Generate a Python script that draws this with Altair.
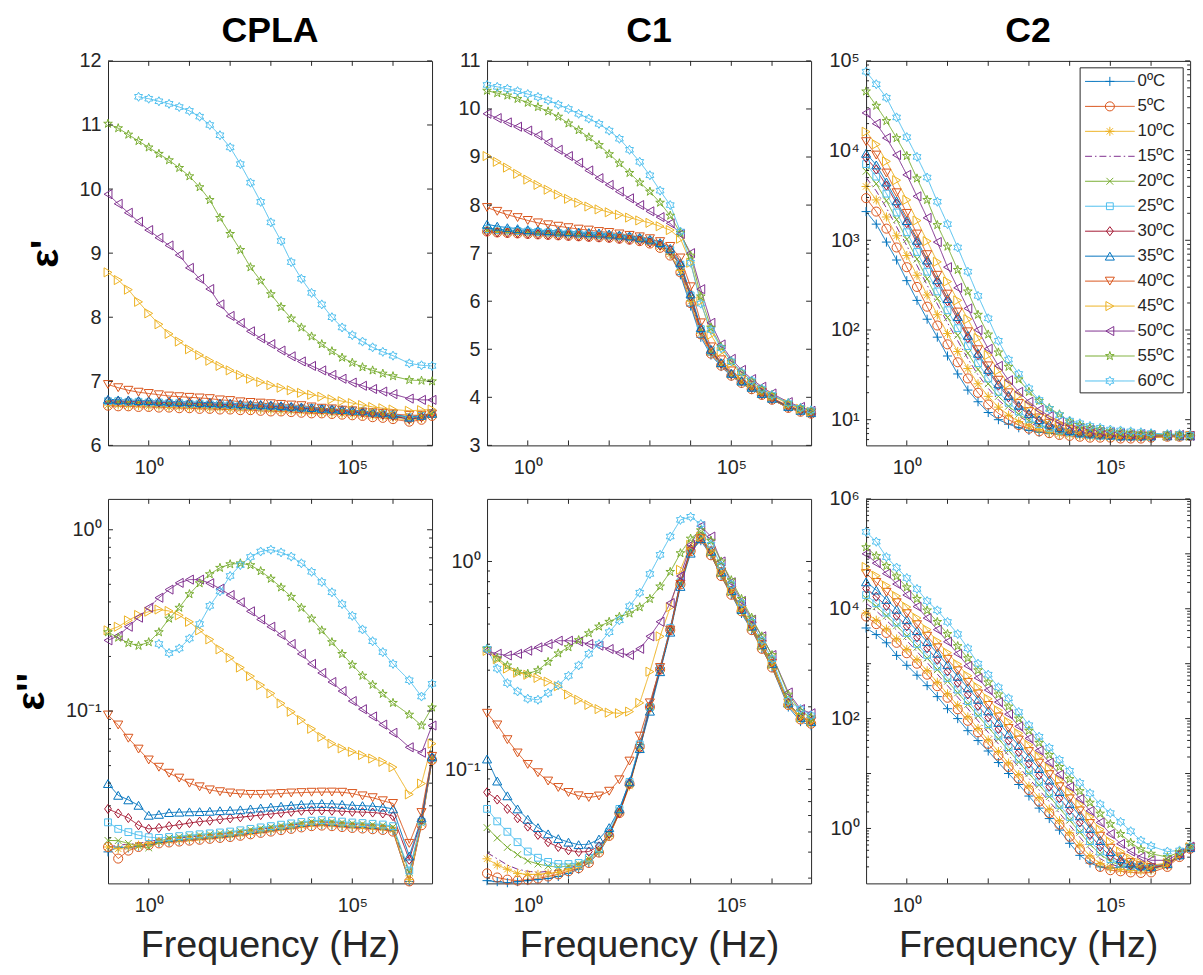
import math
import altair as alt
import pandas as pd

# ---------------------------------------------------------------- data
SERIES = ["0ºC", "5ºC", "10ºC", "15ºC", "20ºC", "25ºC", "30ºC",
          "35ºC", "40ºC", "45ºC", "50ºC", "55ºC", "60ºC"]

# measurement frequencies (Hz)
FREQ = [0.1, 0.178, 0.316, 0.562, 1.0, 1.78, 3.16, 5.62, 10, 17.8, 31.6, 56.2,
        100, 178, 316, 562, 1e3, 1.78e3, 3.16e3, 5.62e3, 1e4, 1.78e4, 3.16e4, 5.62e4,
        1e5, 1.78e5, 3.16e5, 5.62e5, 1e6, 2.51e6, 5.01e6, 9.1e6]

# CPLA  eps'  (linear axis)
CPLA_EPS1 = {
    "0ºC":  [6.66, 6.66, 6.65, 6.65, 6.64, 6.64, 6.63, 6.63, 6.62, 6.62, 6.61, 6.61, 6.60, 6.60, 6.59, 6.58, 6.58, 6.57, 6.56, 6.56, 6.55, 6.54, 6.53, 6.52, 6.51, 6.50, 6.48, 6.47, 6.45, 6.41, 6.43, 6.47],
    "5ºC":  [6.62, 6.61, 6.61, 6.60, 6.60, 6.59, 6.59, 6.58, 6.58, 6.57, 6.57, 6.56, 6.56, 6.55, 6.55, 6.54, 6.53, 6.53, 6.52, 6.51, 6.50, 6.50, 6.49, 6.48, 6.47, 6.46, 6.44, 6.43, 6.41, 6.37, 6.40, 6.46],
    "10ºC": [6.63, 6.63, 6.62, 6.62, 6.61, 6.61, 6.60, 6.60, 6.59, 6.59, 6.58, 6.58, 6.57, 6.57, 6.56, 6.56, 6.55, 6.54, 6.54, 6.53, 6.52, 6.51, 6.50, 6.49, 6.48, 6.47, 6.46, 6.45, 6.43, 6.39, 6.42, 6.47],
    "15ºC": [6.67, 6.67, 6.66, 6.66, 6.65, 6.65, 6.64, 6.64, 6.63, 6.63, 6.62, 6.62, 6.61, 6.61, 6.60, 6.60, 6.59, 6.58, 6.58, 6.57, 6.56, 6.55, 6.54, 6.53, 6.52, 6.51, 6.50, 6.48, 6.46, 6.42, 6.44, 6.48],
    "20ºC": [6.68, 6.68, 6.67, 6.67, 6.66, 6.66, 6.65, 6.65, 6.64, 6.64, 6.63, 6.63, 6.62, 6.62, 6.61, 6.61, 6.60, 6.59, 6.59, 6.58, 6.57, 6.56, 6.55, 6.54, 6.53, 6.52, 6.51, 6.49, 6.47, 6.43, 6.45, 6.49],
    "25ºC": [6.69, 6.69, 6.68, 6.68, 6.67, 6.67, 6.66, 6.66, 6.65, 6.65, 6.64, 6.64, 6.63, 6.62, 6.62, 6.61, 6.61, 6.60, 6.59, 6.58, 6.58, 6.57, 6.56, 6.55, 6.54, 6.53, 6.51, 6.50, 6.48, 6.44, 6.46, 6.50],
    "30ºC": [6.70, 6.69, 6.69, 6.68, 6.68, 6.67, 6.67, 6.66, 6.66, 6.65, 6.65, 6.64, 6.64, 6.63, 6.62, 6.62, 6.61, 6.60, 6.59, 6.58, 6.57, 6.56, 6.55, 6.54, 6.53, 6.51, 6.50, 6.48, 6.46, 6.41, 6.44, 6.49],
    "35ºC": [6.72, 6.71, 6.71, 6.70, 6.70, 6.69, 6.69, 6.68, 6.68, 6.67, 6.67, 6.66, 6.66, 6.65, 6.64, 6.64, 6.63, 6.62, 6.61, 6.60, 6.59, 6.58, 6.57, 6.56, 6.55, 6.54, 6.52, 6.51, 6.49, 6.44, 6.47, 6.50],
    "40ºC": [6.95, 6.90, 6.86, 6.83, 6.81, 6.79, 6.77, 6.76, 6.75, 6.74, 6.73, 6.71, 6.70, 6.68, 6.67, 6.66, 6.65, 6.64, 6.63, 6.62, 6.60, 6.58, 6.57, 6.55, 6.54, 6.52, 6.51, 6.50, 6.49, 6.47, 6.47, 6.49],
    "45ºC": [8.70, 8.58, 8.43, 8.24, 8.06, 7.89, 7.74, 7.62, 7.50, 7.41, 7.32, 7.24, 7.17, 7.10, 7.04, 6.99, 6.94, 6.90, 6.86, 6.82, 6.79, 6.76, 6.72, 6.69, 6.66, 6.63, 6.60, 6.58, 6.56, 6.54, 6.55, 6.56],
    "50ºC": [9.92, 9.77, 9.63, 9.49, 9.36, 9.24, 9.12, 8.97, 8.77, 8.60, 8.44, 8.20, 8.02, 7.91, 7.78, 7.67, 7.58, 7.48, 7.39, 7.31, 7.24, 7.17, 7.10, 7.04, 6.98, 6.93, 6.88, 6.84, 6.80, 6.73, 6.71, 6.71],
    "55ºC": [11.02, 10.95, 10.85, 10.75, 10.65, 10.55, 10.45, 10.33, 10.20, 10.03, 9.83, 9.55, 9.30, 9.05, 8.78, 8.57, 8.36, 8.16, 7.98, 7.84, 7.70, 7.58, 7.47, 7.37, 7.29, 7.22, 7.17, 7.12, 7.08, 7.02, 7.01, 7.00],
    "60ºC": [None, None, None, 11.44, 11.41, 11.37, 11.33, 11.28, 11.22, 11.13, 11.00, 10.84, 10.65, 10.39, 10.10, 9.80, 9.48, 9.19, 8.86, 8.60, 8.38, 8.20, 8.00, 7.84, 7.72, 7.62, 7.53, 7.46, 7.40, 7.28, 7.25, 7.24],
}

# C1  eps'  (linear axis)
C1_EPS1 = {
    "0ºC":  [7.52, 7.50, 7.48, 7.47, 7.46, 7.45, 7.44, 7.43, 7.42, 7.41, 7.40, 7.39, 7.38, 7.36, 7.34, 7.31, 7.26, 7.16, 6.98, 6.55, 5.90, 5.25, 4.88, 4.64, 4.44, 4.29, 4.16, 4.05, 3.95, 3.78, 3.70, 3.66],
    "5ºC":  [7.45, 7.43, 7.42, 7.41, 7.40, 7.39, 7.38, 7.37, 7.36, 7.35, 7.34, 7.33, 7.32, 7.30, 7.28, 7.25, 7.20, 7.11, 6.95, 6.60, 5.96, 5.31, 4.91, 4.66, 4.45, 4.30, 4.17, 4.05, 3.95, 3.78, 3.70, 3.66],
    "10ºC": [7.46, 7.44, 7.43, 7.42, 7.41, 7.40, 7.39, 7.38, 7.37, 7.36, 7.35, 7.34, 7.33, 7.31, 7.29, 7.26, 7.21, 7.13, 6.98, 6.64, 6.00, 5.34, 4.93, 4.68, 4.46, 4.31, 4.18, 4.06, 3.96, 3.79, 3.71, 3.67],
    "15ºC": [7.47, 7.45, 7.44, 7.43, 7.42, 7.41, 7.40, 7.39, 7.38, 7.37, 7.36, 7.35, 7.34, 7.32, 7.30, 7.27, 7.22, 7.15, 7.01, 6.68, 6.04, 5.37, 4.95, 4.69, 4.47, 4.32, 4.19, 4.07, 3.97, 3.80, 3.72, 3.67],
    "20ºC": [7.48, 7.46, 7.45, 7.44, 7.43, 7.42, 7.41, 7.40, 7.39, 7.38, 7.37, 7.36, 7.35, 7.33, 7.31, 7.28, 7.24, 7.17, 7.04, 6.72, 6.08, 5.40, 4.96, 4.70, 4.48, 4.32, 4.19, 4.07, 3.97, 3.80, 3.72, 3.67],
    "25ºC": [7.50, 7.48, 7.47, 7.46, 7.45, 7.44, 7.43, 7.42, 7.41, 7.40, 7.39, 7.38, 7.37, 7.35, 7.33, 7.30, 7.26, 7.19, 7.07, 6.76, 6.12, 5.42, 4.98, 4.71, 4.49, 4.33, 4.20, 4.08, 3.98, 3.81, 3.73, 3.68],
    "30ºC": [7.45, 7.43, 7.42, 7.41, 7.40, 7.39, 7.38, 7.37, 7.36, 7.35, 7.34, 7.33, 7.32, 7.30, 7.28, 7.26, 7.22, 7.16, 7.05, 6.75, 6.10, 5.40, 4.97, 4.70, 4.48, 4.33, 4.20, 4.07, 3.97, 3.80, 3.72, 3.67],
    "35ºC": [7.60, 7.56, 7.53, 7.51, 7.49, 7.48, 7.47, 7.46, 7.45, 7.44, 7.43, 7.42, 7.40, 7.38, 7.36, 7.33, 7.29, 7.22, 7.10, 6.80, 6.15, 5.45, 5.00, 4.72, 4.50, 4.34, 4.21, 4.08, 3.98, 3.81, 3.73, 3.68],
    "40ºC": [7.95, 7.87, 7.80, 7.74, 7.68, 7.63, 7.59, 7.56, 7.53, 7.50, 7.48, 7.45, 7.43, 7.40, 7.37, 7.34, 7.30, 7.24, 7.14, 6.90, 6.30, 5.55, 5.05, 4.78, 4.55, 4.38, 4.24, 4.10, 3.99, 3.82, 3.74, 3.68],
    "45ºC": [9.02, 8.90, 8.78, 8.65, 8.53, 8.42, 8.32, 8.22, 8.13, 8.05, 7.97, 7.91, 7.85, 7.80, 7.74, 7.68, 7.63, 7.56, 7.48, 7.30, 6.80, 6.00, 5.30, 4.95, 4.70, 4.48, 4.30, 4.15, 4.03, 3.86, 3.76, 3.70],
    "50ºC": [9.90, 9.81, 9.72, 9.63, 9.55, 9.45, 9.30, 9.15, 9.02, 8.88, 8.72, 8.56, 8.42, 8.28, 8.14, 8.00, 7.87, 7.75, 7.62, 7.40, 7.00, 6.25, 5.55, 5.10, 4.80, 4.57, 4.38, 4.22, 4.08, 3.90, 3.80, 3.72],
    "55ºC": [10.38, 10.33, 10.28, 10.21, 10.13, 10.04, 9.95, 9.84, 9.70, 9.56, 9.41, 9.25, 9.06, 8.87, 8.67, 8.47, 8.28, 8.05, 7.78, 7.42, 6.95, 6.10, 5.45, 5.05, 4.75, 4.52, 4.34, 4.18, 4.05, 3.88, 3.78, 3.72],
    "60ºC": [10.50, 10.46, 10.42, 10.37, 10.31, 10.25, 10.18, 10.09, 10.00, 9.90, 9.80, 9.69, 9.55, 9.38, 9.15, 8.90, 8.62, 8.30, 8.00, 7.45, 6.80, 5.95, 5.40, 5.02, 4.75, 4.52, 4.35, 4.18, 4.05, 3.88, 3.78, 3.73],
}

# C2  eps'  -- log10 of the values
C2_EPS1_LOG10 = {
    "0ºC":  [3.32, 3.18, 2.98, 2.78, 2.55, 2.33, 2.12, 1.92, 1.71, 1.51, 1.33, 1.20, 1.08, 1.00, 0.95, 0.91, 0.88, 0.86, 0.85, 0.84, 0.83, 0.83, 0.82, 0.82, 0.82, 0.82, 0.82, 0.82, 0.82, 0.82, 0.82, 0.82],
    "5ºC":  [3.47, 3.32, 3.13, 2.92, 2.70, 2.48, 2.26, 2.05, 1.84, 1.64, 1.46, 1.30, 1.17, 1.07, 1.00, 0.94, 0.90, 0.87, 0.85, 0.83, 0.82, 0.81, 0.80, 0.80, 0.80, 0.79, 0.79, 0.79, 0.80, 0.81, 0.81, 0.82],
    "10ºC": [3.60, 3.45, 3.26, 3.05, 2.83, 2.61, 2.39, 2.17, 1.96, 1.76, 1.57, 1.40, 1.26, 1.14, 1.05, 0.98, 0.93, 0.89, 0.86, 0.84, 0.83, 0.82, 0.81, 0.81, 0.80, 0.80, 0.80, 0.80, 0.80, 0.81, 0.81, 0.82],
    "15ºC": [3.70, 3.55, 3.36, 3.15, 2.94, 2.72, 2.50, 2.29, 2.08, 1.88, 1.68, 1.50, 1.35, 1.22, 1.12, 1.04, 0.97, 0.92, 0.89, 0.86, 0.84, 0.83, 0.82, 0.81, 0.81, 0.81, 0.81, 0.81, 0.81, 0.82, 0.82, 0.82],
    "20ºC": [3.77, 3.63, 3.44, 3.23, 3.01, 2.79, 2.57, 2.35, 2.14, 1.94, 1.74, 1.56, 1.40, 1.26, 1.15, 1.06, 0.99, 0.94, 0.90, 0.87, 0.85, 0.83, 0.82, 0.82, 0.81, 0.81, 0.81, 0.81, 0.81, 0.82, 0.82, 0.82],
    "25ºC": [3.85, 3.71, 3.52, 3.31, 3.09, 2.87, 2.65, 2.43, 2.22, 2.02, 1.82, 1.63, 1.46, 1.31, 1.19, 1.09, 1.01, 0.95, 0.91, 0.88, 0.86, 0.84, 0.83, 0.82, 0.82, 0.81, 0.81, 0.81, 0.81, 0.82, 0.82, 0.82],
    "30ºC": [3.92, 3.79, 3.61, 3.41, 3.19, 2.97, 2.75, 2.53, 2.32, 2.12, 1.91, 1.72, 1.54, 1.38, 1.25, 1.14, 1.06, 0.99, 0.94, 0.90, 0.87, 0.85, 0.84, 0.83, 0.82, 0.81, 0.81, 0.81, 0.81, 0.82, 0.82, 0.82],
    "35ºC": [3.97, 3.84, 3.65, 3.44, 3.22, 3.00, 2.78, 2.56, 2.35, 2.15, 1.94, 1.74, 1.56, 1.40, 1.27, 1.16, 1.07, 1.00, 0.95, 0.91, 0.88, 0.86, 0.85, 0.84, 0.83, 0.82, 0.82, 0.82, 0.82, 0.82, 0.82, 0.82],
    "40ºC": [4.10, 3.95, 3.75, 3.53, 3.30, 3.07, 2.84, 2.61, 2.40, 2.20, 1.98, 1.78, 1.60, 1.44, 1.30, 1.18, 1.09, 1.02, 0.96, 0.92, 0.89, 0.87, 0.85, 0.84, 0.83, 0.82, 0.82, 0.82, 0.82, 0.82, 0.82, 0.82],
    "45ºC": [4.21, 4.07, 3.88, 3.67, 3.45, 3.22, 2.99, 2.76, 2.54, 2.33, 2.12, 1.91, 1.72, 1.55, 1.40, 1.27, 1.16, 1.08, 1.01, 0.96, 0.92, 0.89, 0.87, 0.85, 0.84, 0.83, 0.83, 0.82, 0.82, 0.82, 0.82, 0.82],
    "50ºC": [4.42, 4.30, 4.14, 3.95, 3.73, 3.49, 3.25, 2.98, 2.70, 2.47, 2.24, 2.00, 1.79, 1.60, 1.44, 1.31, 1.20, 1.11, 1.04, 0.98, 0.94, 0.91, 0.89, 0.87, 0.86, 0.85, 0.84, 0.84, 0.83, 0.83, 0.83, 0.82],
    "55ºC": [4.66, 4.50, 4.33, 4.14, 3.94, 3.69, 3.45, 3.17, 2.93, 2.67, 2.43, 2.17, 1.95, 1.75, 1.59, 1.45, 1.31, 1.21, 1.13, 1.06, 0.98, 0.94, 0.91, 0.89, 0.87, 0.86, 0.85, 0.84, 0.84, 0.83, 0.83, 0.82],
    "60ºC": [4.88, 4.74, 4.59, 4.37, 4.15, 3.93, 3.70, 3.43, 3.18, 2.92, 2.65, 2.38, 2.13, 1.88, 1.67, 1.51, 1.35, 1.22, 1.12, 1.05, 0.99, 0.96, 0.93, 0.91, 0.89, 0.88, 0.87, 0.86, 0.85, 0.84, 0.84, 0.83],
}

# CPLA  eps''  -- log10 values
CPLA_EPS2_LOG10 = {
    "0ºC":  [-1.777, -1.75, -1.755, -1.745, -1.735, -1.725, -1.72, -1.715, -1.71, -1.705, -1.70, -1.695, -1.69, -1.683, -1.675, -1.667, -1.66, -1.652, -1.645, -1.637, -1.63, -1.627, -1.63, -1.635, -1.64, -1.643, -1.647, -1.651, -1.66, -1.94, -1.62, -1.27],
    "5ºC":  [-1.75, -1.814, -1.77, -1.75, -1.74, -1.73, -1.725, -1.72, -1.715, -1.71, -1.705, -1.70, -1.695, -1.688, -1.68, -1.672, -1.665, -1.657, -1.65, -1.642, -1.635, -1.632, -1.635, -1.64, -1.645, -1.648, -1.652, -1.656, -1.665, -1.94, -1.63, -1.27],
    "10ºC": [-1.75, -1.76, -1.75, -1.74, -1.73, -1.72, -1.715, -1.71, -1.705, -1.70, -1.695, -1.69, -1.685, -1.678, -1.67, -1.662, -1.655, -1.647, -1.64, -1.632, -1.625, -1.622, -1.625, -1.63, -1.635, -1.638, -1.642, -1.646, -1.655, -1.93, -1.62, -1.27],
    "15ºC": [-1.75, -1.74, -1.735, -1.73, -1.72, -1.71, -1.705, -1.70, -1.695, -1.69, -1.685, -1.68, -1.675, -1.668, -1.66, -1.652, -1.645, -1.637, -1.63, -1.622, -1.615, -1.612, -1.615, -1.62, -1.625, -1.628, -1.632, -1.636, -1.645, -1.90, -1.62, -1.26],
    "20ºC": [-1.714, -1.715, -1.73, -1.745, -1.755, -1.72, -1.70, -1.695, -1.69, -1.685, -1.68, -1.675, -1.67, -1.663, -1.655, -1.647, -1.64, -1.632, -1.625, -1.617, -1.61, -1.607, -1.61, -1.615, -1.62, -1.623, -1.627, -1.631, -1.64, -1.89, -1.61, -1.26],
    "25ºC": [-1.614, -1.65, -1.668, -1.685, -1.696, -1.70, -1.695, -1.69, -1.685, -1.68, -1.675, -1.67, -1.665, -1.658, -1.65, -1.642, -1.635, -1.627, -1.62, -1.612, -1.605, -1.602, -1.605, -1.61, -1.615, -1.618, -1.622, -1.626, -1.635, -1.88, -1.61, -1.26],
    "30ºC": [-1.54, -1.565, -1.59, -1.63, -1.65, -1.645, -1.635, -1.627, -1.618, -1.61, -1.605, -1.598, -1.592, -1.586, -1.58, -1.574, -1.568, -1.562, -1.556, -1.55, -1.548, -1.548, -1.55, -1.553, -1.556, -1.558, -1.56, -1.565, -1.58, -1.82, -1.60, -1.26],
    "35ºC": [-1.40, -1.465, -1.49, -1.52, -1.575, -1.57, -1.56, -1.558, -1.556, -1.555, -1.553, -1.55, -1.548, -1.545, -1.54, -1.535, -1.53, -1.525, -1.52, -1.515, -1.512, -1.51, -1.512, -1.515, -1.52, -1.522, -1.525, -1.53, -1.54, -1.80, -1.59, -1.25],
    "40ºC": [-1.022, -1.077, -1.15, -1.21, -1.27, -1.31, -1.343, -1.37, -1.398, -1.418, -1.435, -1.445, -1.452, -1.457, -1.46, -1.46, -1.458, -1.455, -1.452, -1.45, -1.448, -1.447, -1.447, -1.448, -1.455, -1.468, -1.478, -1.495, -1.51, -1.73, -1.56, -1.25],
    "45ºC": [-0.555, -0.535, -0.50, -0.47, -0.452, -0.44, -0.448, -0.472, -0.508, -0.555, -0.605, -0.66, -0.706, -0.76, -0.808, -0.857, -0.903, -0.958, -1.004, -1.05, -1.098, -1.143, -1.18, -1.206, -1.225, -1.243, -1.262, -1.28, -1.31, -1.46, -1.40, -1.18],
    "50ºC": [-0.61, -0.585, -0.535, -0.485, -0.43, -0.375, -0.33, -0.293, -0.275, -0.275, -0.295, -0.325, -0.36, -0.40, -0.45, -0.495, -0.535, -0.58, -0.63, -0.685, -0.74, -0.79, -0.84, -0.89, -0.945, -0.99, -1.03, -1.075, -1.12, -1.20, -1.23, -1.08],
    "55ºC": [-0.565, -0.595, -0.625, -0.64, -0.62, -0.565, -0.49, -0.43, -0.355, -0.295, -0.245, -0.21, -0.19, -0.185, -0.195, -0.228, -0.27, -0.318, -0.37, -0.43, -0.49, -0.555, -0.62, -0.685, -0.745, -0.805, -0.855, -0.905, -0.955, -1.02, -1.08, -0.98],
    "60ºC": [None, None, None, None, None, -0.63, -0.68, -0.655, -0.60, -0.52, -0.42, -0.34, -0.255, -0.195, -0.15, -0.12, -0.11, -0.125, -0.148, -0.185, -0.232, -0.288, -0.345, -0.41, -0.475, -0.55, -0.615, -0.675, -0.74, -0.83, -0.92, -0.85],
}

# C1  eps''  -- log10 values
C1_EPS2_LOG10 = {
    "0ºC":  [-1.535, -1.54, -1.545, -1.54, -1.535, -1.53, -1.525, -1.515, -1.50, -1.48, -1.45, -1.40, -1.32, -1.20, -1.06, -0.88, -0.69, -0.51, -0.32, -0.10, 0.05, 0.10, 0.03, -0.07, -0.16, -0.25, -0.33, -0.42, -0.51, -0.70, -0.77, -0.79],
    "5ºC":  [-1.50, -1.52, -1.53, -1.535, -1.53, -1.525, -1.515, -1.505, -1.49, -1.475, -1.45, -1.40, -1.32, -1.21, -1.07, -0.89, -0.70, -0.52, -0.33, -0.11, 0.05, 0.11, 0.03, -0.07, -0.16, -0.24, -0.33, -0.42, -0.51, -0.69, -0.76, -0.78],
    "10ºC": [-1.43, -1.46, -1.48, -1.50, -1.505, -1.505, -1.50, -1.495, -1.48, -1.465, -1.44, -1.395, -1.32, -1.21, -1.08, -0.90, -0.71, -0.52, -0.33, -0.11, 0.05, 0.11, 0.04, -0.06, -0.15, -0.24, -0.32, -0.41, -0.50, -0.69, -0.76, -0.78],
    "15ºC": [-1.40, -1.43, -1.46, -1.48, -1.49, -1.495, -1.49, -1.485, -1.475, -1.46, -1.435, -1.39, -1.31, -1.20, -1.07, -0.89, -0.70, -0.52, -0.33, -0.11, 0.05, 0.11, 0.04, -0.06, -0.15, -0.24, -0.32, -0.41, -0.50, -0.68, -0.75, -0.77],
    "20ºC": [-1.28, -1.33, -1.375, -1.41, -1.44, -1.455, -1.465, -1.47, -1.465, -1.455, -1.43, -1.385, -1.31, -1.20, -1.07, -0.89, -0.70, -0.52, -0.33, -0.11, 0.05, 0.12, 0.04, -0.06, -0.15, -0.24, -0.32, -0.41, -0.50, -0.68, -0.75, -0.77],
    "25ºC": [-1.19, -1.25, -1.30, -1.35, -1.395, -1.425, -1.445, -1.455, -1.455, -1.45, -1.425, -1.38, -1.30, -1.19, -1.06, -0.88, -0.70, -0.51, -0.32, -0.10, 0.06, 0.12, 0.05, -0.05, -0.14, -0.23, -0.31, -0.40, -0.49, -0.68, -0.75, -0.77],
    "30ºC": [-1.11, -1.145, -1.19, -1.235, -1.275, -1.315, -1.35, -1.373, -1.389, -1.397, -1.395, -1.37, -1.31, -1.21, -1.07, -0.90, -0.70, -0.52, -0.33, -0.10, 0.06, 0.12, 0.05, -0.05, -0.14, -0.23, -0.31, -0.40, -0.49, -0.68, -0.75, -0.77],
    "35ºC": [-0.95, -1.056, -1.127, -1.19, -1.24, -1.28, -1.31, -1.333, -1.35, -1.362, -1.36, -1.335, -1.28, -1.19, -1.06, -0.90, -0.72, -0.53, -0.34, -0.12, 0.04, 0.11, 0.05, -0.05, -0.14, -0.23, -0.31, -0.40, -0.49, -0.68, -0.75, -0.77],
    "40ºC": [-0.73, -0.786, -0.857, -0.921, -0.976, -1.016, -1.056, -1.087, -1.111, -1.127, -1.135, -1.128, -1.105, -1.05, -0.96, -0.84, -0.68, -0.51, -0.33, -0.11, 0.05, 0.11, 0.05, -0.05, -0.14, -0.23, -0.31, -0.40, -0.49, -0.68, -0.75, -0.77],
    "45ºC": [-0.43, -0.47, -0.515, -0.535, -0.545, -0.56, -0.578, -0.60, -0.64, -0.665, -0.69, -0.71, -0.727, -0.73, -0.722, -0.68, -0.53, -0.36, -0.22, -0.04, 0.08, 0.12, 0.05, -0.05, -0.14, -0.22, -0.31, -0.40, -0.49, -0.68, -0.75, -0.77],
    "50ºC": [-0.43, -0.444, -0.452, -0.444, -0.429, -0.413, -0.397, -0.381, -0.381, -0.385, -0.397, -0.405, -0.421, -0.44, -0.45, -0.42, -0.36, -0.29, -0.20, -0.07, 0.08, 0.17, 0.12, 0.00, -0.10, -0.19, -0.28, -0.36, -0.45, -0.63, -0.71, -0.73],
    "55ºC": [-0.42, -0.465, -0.50, -0.53, -0.54, -0.523, -0.483, -0.442, -0.412, -0.378, -0.345, -0.313, -0.29, -0.266, -0.25, -0.22, -0.18, -0.12, -0.05, 0.04, 0.11, 0.15, 0.10, 0.00, -0.09, -0.18, -0.27, -0.36, -0.45, -0.64, -0.72, -0.75],
    "60ºC": [-0.42, -0.515, -0.585, -0.625, -0.66, -0.665, -0.632, -0.595, -0.55, -0.50, -0.444, -0.397, -0.34, -0.283, -0.215, -0.15, -0.06, 0.032, 0.12, 0.20, 0.215, 0.18, 0.08, -0.02, -0.11, -0.20, -0.29, -0.38, -0.47, -0.67, -0.71, -0.74],
}

# C2  eps''  -- log10 values
C2_EPS2_LOG10 = {
    "0ºC":  [3.65, 3.53, 3.38, 3.15, 2.97, 2.79, 2.60, 2.40, 2.18, 2.00, 1.78, 1.60, 1.41, 1.20, 1.00, 0.80, 0.59, 0.37, 0.18, -0.03, -0.27, -0.49, -0.63, -0.70, -0.72, -0.70, -0.70, -0.72, -0.75, -0.65, -0.50, -0.36],
    "5ºC":  [3.86, 3.72, 3.56, 3.38, 3.19, 3.00, 2.80, 2.59, 2.38, 2.17, 1.96, 1.75, 1.54, 1.33, 1.12, 0.91, 0.70, 0.49, 0.28, 0.07, -0.15, -0.38, -0.57, -0.70, -0.76, -0.78, -0.80, -0.81, -0.80, -0.70, -0.52, -0.37],
    "10ºC": [3.92, 3.79, 3.63, 3.45, 3.26, 3.07, 2.87, 2.66, 2.45, 2.24, 2.03, 1.82, 1.61, 1.40, 1.19, 0.98, 0.77, 0.56, 0.35, 0.14, -0.08, -0.30, -0.50, -0.64, -0.72, -0.75, -0.76, -0.77, -0.76, -0.68, -0.50, -0.36],
    "15ºC": [4.10, 3.96, 3.79, 3.61, 3.42, 3.22, 3.02, 2.81, 2.60, 2.39, 2.18, 1.96, 1.75, 1.54, 1.33, 1.12, 0.91, 0.70, 0.49, 0.28, 0.06, -0.16, -0.38, -0.55, -0.65, -0.70, -0.72, -0.73, -0.73, -0.66, -0.50, -0.36],
    "20ºC": [4.19, 4.04, 3.87, 3.69, 3.50, 3.30, 3.10, 2.89, 2.68, 2.47, 2.26, 2.05, 1.84, 1.63, 1.42, 1.21, 1.00, 0.79, 0.58, 0.37, 0.15, -0.07, -0.29, -0.47, -0.60, -0.67, -0.70, -0.72, -0.72, -0.66, -0.49, -0.35],
    "25ºC": [4.25, 4.10, 3.93, 3.75, 3.56, 3.36, 3.16, 2.95, 2.74, 2.53, 2.32, 2.11, 1.90, 1.69, 1.48, 1.27, 1.06, 0.85, 0.64, 0.43, 0.21, -0.01, -0.23, -0.42, -0.56, -0.64, -0.68, -0.70, -0.71, -0.65, -0.49, -0.35],
    "30ºC": [4.37, 4.22, 4.05, 3.87, 3.68, 3.48, 3.28, 3.07, 2.86, 2.65, 2.44, 2.23, 2.02, 1.81, 1.60, 1.39, 1.18, 0.97, 0.76, 0.55, 0.33, 0.11, -0.12, -0.33, -0.50, -0.61, -0.67, -0.70, -0.72, -0.66, -0.49, -0.35],
    "35ºC": [4.49, 4.34, 4.17, 3.99, 3.80, 3.60, 3.40, 3.19, 2.98, 2.77, 2.56, 2.35, 2.14, 1.93, 1.72, 1.51, 1.30, 1.09, 0.88, 0.67, 0.45, 0.23, 0.00, -0.22, -0.42, -0.55, -0.63, -0.67, -0.69, -0.64, -0.48, -0.35],
    "40ºC": [4.64, 4.48, 4.30, 4.11, 3.91, 3.71, 3.50, 3.29, 3.08, 2.87, 2.66, 2.45, 2.24, 2.03, 1.82, 1.61, 1.40, 1.19, 0.98, 0.76, 0.54, 0.32, 0.09, -0.14, -0.36, -0.52, -0.62, -0.68, -0.71, -0.65, -0.48, -0.35],
    "45ºC": [4.76, 4.60, 4.42, 4.23, 4.03, 3.83, 3.62, 3.41, 3.20, 2.99, 2.78, 2.57, 2.36, 2.15, 1.94, 1.73, 1.52, 1.31, 1.10, 0.88, 0.66, 0.44, 0.21, -0.02, -0.24, -0.42, -0.55, -0.63, -0.67, -0.63, -0.47, -0.34],
    "50ºC": [5.00, 4.83, 4.64, 4.45, 4.25, 4.04, 3.83, 3.62, 3.40, 3.18, 2.96, 2.74, 2.52, 2.30, 2.08, 1.86, 1.64, 1.42, 1.20, 0.98, 0.76, 0.54, 0.32, 0.11, -0.10, -0.28, -0.42, -0.52, -0.58, -0.58, -0.45, -0.33],
    "55ºC": [5.12, 4.96, 4.78, 4.59, 4.39, 4.18, 3.97, 3.76, 3.54, 3.32, 3.10, 2.88, 2.66, 2.44, 2.22, 2.00, 1.78, 1.56, 1.34, 1.12, 0.90, 0.68, 0.47, 0.27, 0.08, -0.10, -0.26, -0.38, -0.46, -0.52, -0.43, -0.32],
    "60ºC": [5.40, 5.22, 4.94, 4.75, 4.56, 4.36, 4.14, 3.97, 3.76, 3.54, 3.28, 3.00, 2.80, 2.57, 2.37, 2.12, 1.88, 1.67, 1.47, 1.25, 1.05, 0.83, 0.64, 0.44, 0.28, 0.12, -0.05, -0.22, -0.32, -0.42, -0.40, -0.33],
}

# ---------------------------------------------------------------- style
COLORS = ["#0072BD", "#D95319", "#EDB120", "#7E2F8E", "#77AC30", "#4DBEEE", "#A2142F",
          "#0072BD", "#D95319", "#EDB120", "#7E2F8E", "#77AC30", "#4DBEEE"]
PLUS = "M-1,0L1,0M0,-1L0,1"
STAR = "M-1,0L1,0M0,-1L0,1M-0.7,-0.7L0.7,0.7M-0.7,0.7L0.7,-0.7"
XMARK = "M-0.75,-0.75L0.75,0.75M-0.75,0.75L0.75,-0.75"
SQUARE = "M-0.75,-0.75L0.75,-0.75L0.75,0.75L-0.75,0.75Z"
DIAMOND = "M0,-1L0.75,0L0,1L-0.75,0Z"
PENTA = ("M0,-1L0.225,-0.309L0.951,-0.309L0.363,0.118L0.588,0.809L0,0.382"
         "L-0.588,0.809L-0.363,0.118L-0.951,-0.309L-0.225,-0.309Z")
HEXA = ("M0,-1L0.289,-0.5L0.866,-0.5L0.577,0L0.866,0.5L0.289,0.5L0,1"
        "L-0.289,0.5L-0.866,0.5L-0.577,0L-0.866,-0.5L-0.289,-0.5Z")
SHAPES = [PLUS, "circle", STAR, "circle", XMARK, SQUARE, DIAMOND,
          "triangle-up", "triangle-down", "triangle-right", "triangle-left", PENTA, HEXA]
DASHES = [[1, 0]] * 3 + [[7, 3, 1.5, 3]] + [[1, 0]] * 9
NO_MARKER = "15ºC"

W, H = 327, 388
FONT = "Liberation Sans"
TXT = "#262626"
MSIZE = 84
SUP = str.maketrans("-0123456789", "⁻⁰¹²³⁴⁵⁶⁷⁸⁹")


def pow_expr(exps):
    expr = "''"
    for e in reversed(exps):
        lab = "10" + str(e).translate(SUP)
        expr = f"(abs(log(datum.value)/LN10-({e}))<0.01)?'{lab}':({expr})"
    return expr


color_enc = alt.Color("series:N", scale=alt.Scale(domain=SERIES, range=COLORS), legend=None)
shape_enc = alt.Shape("series:N", scale=alt.Scale(domain=SERIES, range=SHAPES), legend=None)
dash_enc = alt.StrokeDash("series:N", scale=alt.Scale(domain=SERIES, range=DASHES), legend=None)


def make_panel(table, is_log, ydom, ylabels, ymajor, yminor, ytitle, xtitle, title=None, legend=False):
    rows = []
    for s in SERIES:
        vals = table[s]
        assert len(vals) == len(FREQ), (s, len(vals))
        for f, v in zip(FREQ, vals):
            if v is None:
                continue
            rows.append({"f": f, "v": (10 ** v) if is_log else v, "series": s})
    df = pd.DataFrame(rows)

    xaxis = alt.Axis(values=[1, 100000], labelExpr=pow_expr([0, 5]), ticks=False, domain=False,
                     grid=False, labelFont=FONT, labelFontSize=20, labelColor=TXT, labelPadding=12,
                     labelFlush=False, labelOverlap=False, titleFont=FONT, titleFontSize=38,
                     titleFontWeight="normal", titleColor=TXT, titlePadding=12)
    xenc = alt.X("f:Q", scale=alt.Scale(type="log", domain=[FREQ[0], FREQ[-1]], nice=False),
                 axis=xaxis, title=xtitle)
    yaxis_kw = dict(values=ylabels, ticks=False, domain=False, grid=False, labelFont=FONT,
                    labelFontSize=20, labelColor=TXT, labelPadding=7, labelFlush=False,
                    labelOverlap=False, titleFont=FONT, titleFontSize=40, titleFontWeight="bold",
                    titleColor="#000000", titlePadding=14)
    if is_log:
        yaxis_kw["labelExpr"] = pow_expr([round(math.log10(v)) for v in ylabels])
    yscale = alt.Scale(type="log" if is_log else "linear", domain=ydom, nice=False, zero=False)
    yenc = alt.Y("v:Q", scale=yscale, axis=alt.Axis(**yaxis_kw), title=ytitle)

    lines = alt.Chart(df).mark_line(strokeWidth=1).encode(x=xenc, y=yenc, color=color_enc,
                                                          strokeDash=dash_enc)
    pts = alt.Chart(df[df.series != NO_MARKER]).mark_point(
        filled=False, size=MSIZE, strokeWidth=1, opacity=1).encode(
        x=xenc, y=yenc, color=color_enc, shape=shape_enc)

    xt = pd.DataFrame({"f": [1, 10, 100, 1e3, 1e4, 1e5, 1e6]})
    ymj = pd.DataFrame({"v": ymajor})
    rule = dict(color=TXT, strokeWidth=1)
    ticks = [
        alt.Chart(xt).mark_rule(**rule).encode(x=xenc, y=alt.value(0), y2=alt.value(5)),
        alt.Chart(xt).mark_rule(**rule).encode(x=xenc, y=alt.value(H - 5), y2=alt.value(H)),
        alt.Chart(ymj).mark_rule(**rule).encode(y=yenc, x=alt.value(0), x2=alt.value(5)),
        alt.Chart(ymj).mark_rule(**rule).encode(y=yenc, x=alt.value(W - 5), x2=alt.value(W)),
    ]
    if yminor:
        ymn = pd.DataFrame({"v": list(yminor)})
        ticks += [
            alt.Chart(ymn).mark_rule(**rule).encode(y=yenc, x=alt.value(0), x2=alt.value(3)),
            alt.Chart(ymn).mark_rule(**rule).encode(y=yenc, x=alt.value(W - 3), x2=alt.value(W)),
        ]
    inner = alt.layer(lines, pts, *ticks)

    if legend:
        ldf = pd.DataFrame({"series": SERIES})
        ly = alt.Y("series:N", scale=alt.Scale(type="point", domain=SERIES, range=[20.7, 323.0],
                                               padding=0), axis=None)
        box = alt.Chart(pd.DataFrame({"k": [0]})).mark_rect(
            fill="white", stroke=TXT, strokeWidth=1).encode(
            x=alt.value(216), x2=alt.value(320), y=alt.value(7), y2=alt.value(335))
        lline = alt.Chart(ldf).mark_rule(strokeWidth=1).encode(
            x=alt.value(221), x2=alt.value(271), y=ly, color=color_enc, strokeDash=dash_enc)
        lpts = alt.Chart(ldf[ldf.series != NO_MARKER]).mark_point(
            filled=False, size=MSIZE, strokeWidth=1, opacity=1).encode(
            x=alt.value(246), y=ly, color=color_enc, shape=shape_enc)
        ltxt = alt.Chart(ldf).mark_text(align="left", baseline="middle", font=FONT, fontSize=17,
                                        color=TXT).encode(x=alt.value(274), y=ly, text="series:N")
        leg = alt.layer(box, lline, lpts, ltxt)
        out = alt.layer(inner, leg).resolve_scale(y="independent")
    else:
        out = inner

    props = dict(width=W, height=H)
    if title:
        props["title"] = alt.TitleParams(text=title, font=FONT, fontSize=36, fontWeight="bold",
                                         color="#000000", offset=1, anchor="middle")
    return out.properties(**props)


def minors(lo_exp, hi_exp, lo, hi):
    out = []
    for k in range(lo_exp, hi_exp + 1):
        for m in range(2, 10):
            v = m * 10.0 ** k
            if lo < v < hi:
                out.append(v)
    return out


p1 = make_panel(CPLA_EPS1, False, [6, 12], list(range(6, 13)), list(range(6, 13)), None,
                "ε'", None, title="CPLA")
p2 = make_panel(C1_EPS1, False, [3, 11], list(range(3, 12)), list(range(3, 12)), None,
                None, None, title="C1")
p3 = make_panel(C2_EPS1_LOG10, True, [5.17, 1e5], [10, 100, 1e3, 1e4, 1e5],
                [10, 100, 1e3, 1e4, 1e5], minors(0, 4, 5.17, 1e5), None, None, title="C2",
                legend=True)
p4 = make_panel(CPLA_EPS2_LOG10, True, [0.0112, 1.48], [0.1, 1], [0.1, 1],
                minors(-2, 0, 0.0112, 1.48), "ε''", "Frequency (Hz)")
p5 = make_panel(C1_EPS2_LOG10, True, [0.0283, 2.0], [0.1, 1], [0.1, 1],
                minors(-2, 0, 0.0283, 2.0), None, "Frequency (Hz)")
p6 = make_panel(C2_EPS2_LOG10, True, [0.1, 1e6], [1, 100, 1e4, 1e6],
                [1, 10, 100, 1e3, 1e4, 1e5, 1e6], minors(-1, 5, 0.1, 1e6), None, "Frequency (Hz)")

chart = alt.concat(p1, p2, p3, p4, p5, p6, columns=3,
                   spacing={"row": 54, "column": 55.5}, bounds="flush").properties(
    padding={"left": 11, "top": 8, "right": 5, "bottom": 5}, background="white"
).configure_view(stroke=TXT, strokeWidth=1)

chart.save("out.html", embed_options={"renderer": "svg", "actions": False})
